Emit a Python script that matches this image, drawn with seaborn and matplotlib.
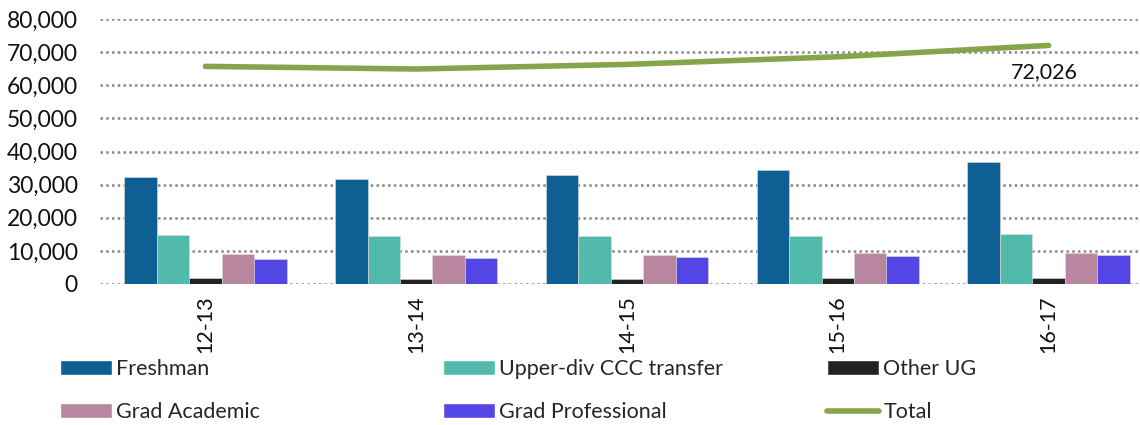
import matplotlib
matplotlib.use("Agg")
import matplotlib.pyplot as plt
import seaborn as sns
import pandas as pd
import numpy as np
from matplotlib.patches import Patch
from matplotlib.lines import Line2D

years = ["12-13", "13-14", "14-15", "15-16", "16-17"]
series_names = ["Freshman", "Upper-div CCC transfer", "Other UG", "Grad Academic", "Grad Professional"]
freshman = [32400, 31700, 33050, 34360, 36680]
upper_div = [14700, 14600, 14500, 14600, 15110]
other_ug = [1700, 1500, 1500, 1700, 1700]
grad_academic = [9000, 8750, 8650, 9270, 9270]
grad_professional = [7650, 7750, 8060, 8460, 8770]
total = [65700, 64900, 66300, 68600, 72026]

colors = ["#0E5F94", "#52BAAA", "#222222", "#B8869F", "#5346E5"]
total_color = "#86A54A"

sns.set_theme(style="white")
plt.rcParams["font.family"] = ["Lato", "DejaVu Sans"]

rows = []
for name, vals in zip(series_names, [freshman, upper_div, other_ug, grad_academic, grad_professional]):
    for y, v in zip(years, vals):
        rows.append({"year": y, "series": name, "value": v})
df = pd.DataFrame(rows)

W, H = 1140, 425
fig = plt.figure(figsize=(W / 100, H / 100), dpi=100)
ax = fig.add_axes([100 / W, 1 - 284 / H, (W - 100) / W, (284 - 19) / H])

sns.barplot(data=df, x="year", y="value", hue="series", order=years, hue_order=series_names,
            palette=colors, saturation=1, width=0.77, gap=0, dodge=True, ax=ax, legend=False,
            edgecolor="#dddddd", linewidth=0.4, zorder=3)

xs = np.arange(len(years))
ax.plot(xs, total, color=total_color, linewidth=4, solid_capstyle="round", zorder=4)
ax.annotate(f"{total[-1]:,}", xy=(xs[-1], total[-1]), xytext=(-3, -19), textcoords="offset points",
            ha="center", va="center", fontsize=15.5, color="#111111")

ax.set_xlim(-0.5, 4.5 - 14 / 211)
ax.set_ylim(0, 80000)
ax.set_yticks(np.arange(0, 80001, 10000))
ax.set_yticklabels([f"{v:,}" for v in range(0, 80001, 10000)], fontsize=16.5, color="#111111")
ax.set_xticks(xs)
ax.set_xticklabels(years, rotation=90, fontsize=15.5, color="#111111")
ax.tick_params(axis="y", length=0, pad=16)
ax.tick_params(axis="x", length=0, pad=8)
ax.set_xlabel("")
ax.set_ylabel("")
for s in ax.spines.values():
    s.set_visible(False)
ax.yaxis.grid(True, linestyle=(0, (1, 1.3)), color="#888888", linewidth=1.8, zorder=0)
ax.set_axisbelow(True)

handles = [Patch(facecolor=c) for c in colors] + [Line2D([0], [0], color=total_color, linewidth=4)]
labels = series_names + ["Total"]
positions = [(60, 369), (443, 369), (827, 369), (60, 412), (443, 412), (827, 412)]
for h, l, (px, py) in zip(handles, labels, positions):
    fig.legend([h], [l], loc="center left", bbox_to_anchor=(px / W, 1 - py / H),
               frameon=False, fontsize=15.5, handlelength=2.4, handleheight=0.65,
               handletextpad=0.22, borderpad=0, borderaxespad=0)

fig.savefig("out.png", dpi=100)
